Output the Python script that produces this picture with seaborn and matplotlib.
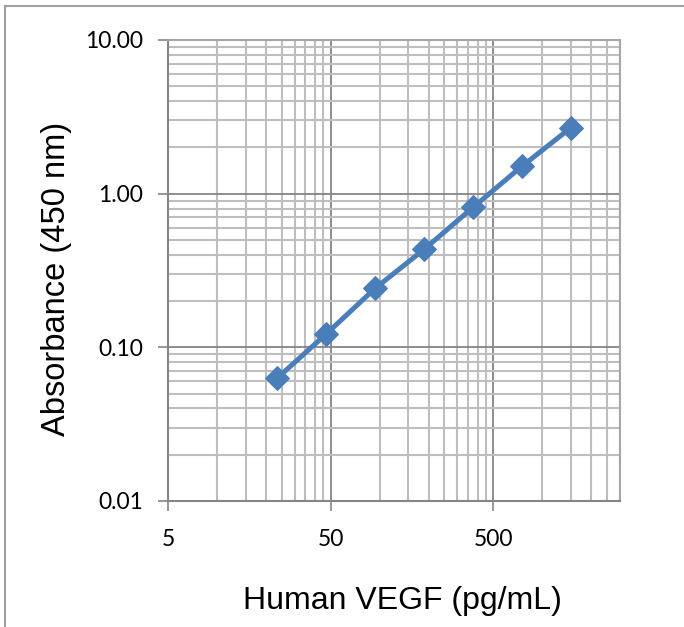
import numpy as np
import seaborn as sns
import matplotlib.pyplot as plt
from matplotlib.patches import Rectangle
from matplotlib.ticker import FixedLocator, LogLocator, FormatStrFormatter, NullFormatter

# standard curve, 2-fold serial dilution
vegf_conc = [23.44, 46.88, 93.75, 187.5, 375, 750, 1500]
absorbance = [0.063, 0.122, 0.242, 0.434, 0.815, 1.51, 2.69]
x_major = [5, 50, 500]
y_major = [0.01, 0.1, 1, 10]

sns.set_style("white")
plt.rcParams['font.family'] = ['Lato', 'DejaVu Sans']

fig = plt.figure(figsize=(6.84, 6.27), dpi=100)
ax = fig.add_axes([168/684, 1 - 501/627, (620 - 168)/684, (501 - 40)/627])

sns.lineplot(x=vegf_conc, y=absorbance, ax=ax, color='#4A7EBB', lw=3.6,
             marker='D', markersize=12, markeredgecolor='#4A7EBB')

ax.set_xscale('log')
ax.set_yscale('log')
ax.set_xlim(5, 3000)
ax.set_ylim(0.01, 10)

ax.xaxis.set_major_locator(FixedLocator(x_major))
ax.xaxis.set_minor_locator(LogLocator(base=10, subs=[1, 1.5, 2, 2.5, 3, 3.5, 4, 4.5]))
ax.yaxis.set_major_locator(FixedLocator(y_major))
ax.yaxis.set_minor_locator(LogLocator(base=10, subs=np.arange(2, 10)))
ax.xaxis.set_major_formatter(FormatStrFormatter('%d'))
ax.yaxis.set_major_formatter(FormatStrFormatter('%.2f'))
ax.xaxis.set_minor_formatter(NullFormatter())
ax.yaxis.set_minor_formatter(NullFormatter())

ax.grid(True, which='minor', color='#BEBEBE', lw=1.5)
ax.grid(True, which='major', color='#858585', lw=1.3)
ax.set_axisbelow(True)

ax.tick_params(which='major', length=7, width=1.2, color='#858585',
               labelsize=16.5, pad=11, direction='out', left=True, bottom=True,
               labelcolor='black')
ax.tick_params(which='minor', length=0)
ax.tick_params(axis='x', pad=13)
for s in ax.spines.values():
    s.set_color('#A6A6A6')
    s.set_linewidth(1.5)
ax.spines['left'].set_color('#858585')
ax.spines['bottom'].set_color('#858585')

ax.set_xlabel('Human VEGF (pg/mL)', fontsize=23, family='Liberation Sans',
              labelpad=26, color='black')
ax.set_ylabel('Absorbance (450 nm)', fontsize=23.5, family='Liberation Sans',
              labelpad=9, color='black')
ax.xaxis.label.set_x(0.5 + 8/452)
ax.yaxis.label.set_y(0.5 - 8/461)

fig.patches.append(Rectangle((5/684, -0.05), 1.2, 1.05 - 6/627, transform=fig.transFigure,
                             fill=False, edgecolor='#A0A0A0', lw=1.5))

fig.savefig('out.png', dpi=100)
